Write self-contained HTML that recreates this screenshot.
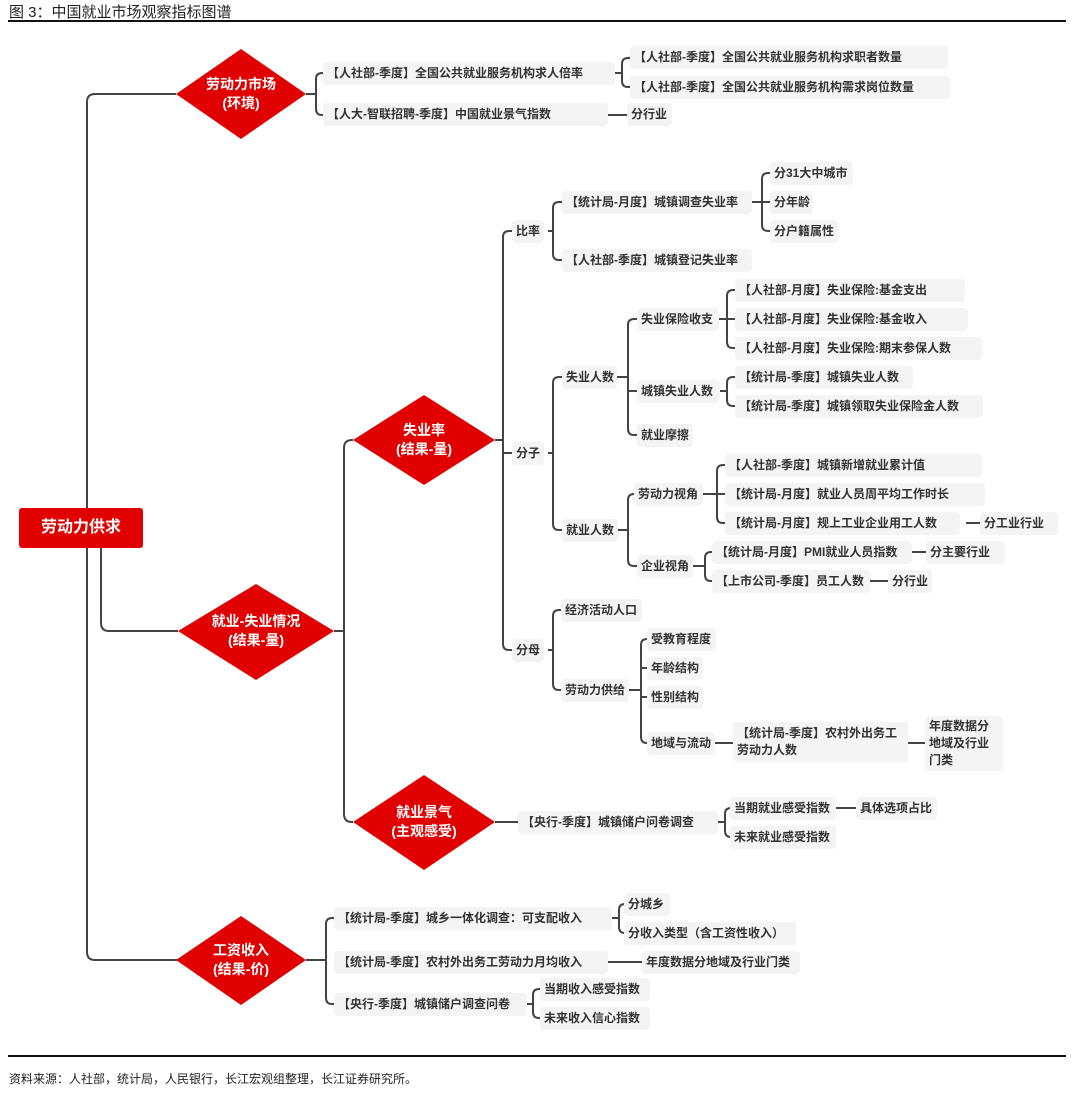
<!DOCTYPE html>
<html><head><meta charset="utf-8"><style>
body{margin:0;width:1080px;height:1094px;background:#fff;position:relative;overflow:hidden;font-family:"Liberation Sans","Noto Sans CJK SC",sans-serif;}
.b{position:absolute;height:23px;line-height:23px;background:#f4f4f4;border-radius:4px;font-size:12px;font-weight:bold;color:#333;padding:0 4px;white-space:nowrap;box-sizing:border-box;}
.d{position:absolute;color:#fff;font-weight:bold;font-size:14px;text-align:center;line-height:19px;}
svg{position:absolute;left:0;top:0;}
</style></head><body>
<div style="position:absolute;left:9px;top:1px;font-size:15px;color:#222;">图 3：中国就业市场观察指标图谱</div>
<div style="position:absolute;left:8px;top:20px;width:1058px;height:2px;background:#111;"></div>
<div style="position:absolute;left:8px;top:1055px;width:1058px;height:2px;background:#111;"></div>
<div style="position:absolute;left:9px;top:1070px;font-size:12px;color:#222;">资料来源：人社部，统计局，人民银行，长江宏观组整理，长江证券研究所。</div>

<svg width="1080" height="1094">
<g fill="none" stroke="#444" stroke-width="2">
<path d="M176,94 H95 Q87,94 87,102 V952 Q87,960 95,960 H178"/>
<path d="M101,548 V623 Q101,631 109,631 H178"/>
<path d="M334,631 H344 M353,440 H352 Q344,440 344,448 V814 Q344,822 352,822 H353"/>
<!-- A --><path d="M306,94 H316 M323,73 H322 Q316,73 316,79 V109 Q316,115 322,115 H323"/>
<!-- B --><path d="M615,73 H622 M630,58 H628 Q622,58 622,64 V81 Q622,87 628,87 H630"/>
<path d="M608,115 H627"/>
<!-- D --><path d="M495,440 H503 M512,231 H509 Q503,231 503,237 V644 Q503,650 509,650 H512 M503,453 H512"/>
<!-- E --><path d="M548,231 H553 M562,202 H559 Q553,202 553,208 V254 Q553,260 559,260 H562"/>
<!-- F --><path d="M752,202 H770 M770,173 H768 Q762,173 762,179 V225 Q762,231 768,231 H770"/>
<!-- G --><path d="M548,453 H553 M562,377 H559 Q553,377 553,383 V524 Q553,530 559,530 H562"/>
<!-- H --><path d="M617,377 H628 M637,319 H634 Q628,319 628,325 V429 Q628,435 634,435 H637 M628,391 H637"/>
<!-- I --><path d="M719,319 H735 M735,290 H733 Q727,290 727,296 V342 Q727,348 733,348 H735"/>
<!-- J --><path d="M720,391 H727 M735,377 H733 Q727,377 727,383 V400 Q727,406 733,406 H735"/>
<!-- K --><path d="M618,530 H628 M634,494 H634 Q628,494 628,500 V560 Q628,566 634,566 H637"/>
<!-- L --><path d="M703,494 H725 M725,465 H723 Q717,465 717,471 V517 Q717,523 723,523 H725"/>
<path d="M966,523 H980"/>
<!-- M --><path d="M693,566 H705 M712,552 H711 Q705,552 705,558 V575 Q705,581 711,581 H712"/>
<path d="M912,552 H926 M870,581 H888"/>
<!-- N --><path d="M548,650 H553 M561,610 H559 Q553,610 553,616 V684 Q553,690 559,690 H561"/>
<!-- O --><path d="M629,690 H641 M647,639 H647 Q641,639 641,645 V737 Q641,743 647,743 H647 M641,668 H647 M641,697 H647"/>
<path d="M715,743 H733 M908,743 H925"/>
<path d="M495,822 H518"/>
<!-- Q --><path d="M718,822 H725 M730,808 H731 Q725,808 725,814 V831 Q725,837 731,837 H730"/>
<path d="M836,808 H856"/>
<!-- R --><path d="M306,960 H326 M334,918 H332 Q326,918 326,924 V998 Q326,1004 332,1004 H334"/>
<!-- S --><path d="M612,918 H619 M624,904 H625 Q619,904 619,910 V927 Q619,933 625,933 H624"/>
<path d="M608,962 H642"/>
<!-- T --><path d="M527,1004 H533 M540,989 H539 Q533,989 533,995 V1012 Q533,1018 539,1018 H540"/>
</g>
<g fill="#e00000">
<polygon points="241,49 306,94 241,139 176,94"/>
<polygon points="256,584 334,631 256,680 178,631"/>
<polygon points="424,395 495,440 424,485 353,440"/>
<polygon points="424,775 495,822 424,870 353,822"/>
<polygon points="241,916 306,960 241,1005 176,960"/>
</g>
<rect x="19" y="508" width="124" height="40" rx="3" fill="#e00000"/>
</svg>

<div style="position:absolute;left:19px;top:508px;width:124px;height:40px;line-height:40px;text-align:center;color:#fff;font-weight:bold;font-size:16px;">劳动力供求</div>
<div class="d" style="left:176px;top:75px;width:130px;">劳动力市场<br>(环境)</div>
<div class="d" style="left:178px;top:612px;width:156px;">就业-失业情况<br>(结果-量)</div>
<div class="d" style="left:353px;top:421px;width:142px;">失业率<br>(结果-量)</div>
<div class="d" style="left:353px;top:803px;width:142px;">就业景气<br>(主观感受)</div>
<div class="d" style="left:176px;top:941px;width:130px;">工资收入<br>(结果-价)</div>

<div class="b" style="left:323px;top:62px;width:292px;">【人社部-季度】全国公共就业服务机构求人倍率</div>
<div class="b" style="left:630px;top:46px;width:318px;">【人社部-季度】全国公共就业服务机构求职者数量</div>
<div class="b" style="left:630px;top:76px;width:320px;">【人社部-季度】全国公共就业服务机构需求岗位数量</div>
<div class="b" style="left:323px;top:103px;width:285px;">【人大-智联招聘-季度】中国就业景气指数</div>
<div class="b" style="left:627px;top:103px;width:45px;">分行业</div>

<div class="b" style="left:512px;top:220px;">比率</div>
<div class="b" style="left:512px;top:442px;">分子</div>
<div class="b" style="left:512px;top:639px;">分母</div>
<div class="b" style="left:562px;top:191px;width:190px;">【统计局-月度】城镇调查失业率</div>
<div class="b" style="left:562px;top:249px;width:190px;">【人社部-季度】城镇登记失业率</div>
<div class="b" style="left:770px;top:162px;width:83px;">分31大中城市</div>
<div class="b" style="left:770px;top:191px;width:43px;">分年龄</div>
<div class="b" style="left:770px;top:220px;width:68px;">分户籍属性</div>
<div class="b" style="left:562px;top:366px;width:55px;">失业人数</div>
<div class="b" style="left:562px;top:519px;width:56px;">就业人数</div>
<div class="b" style="left:637px;top:308px;width:82px;">失业保险收支</div>
<div class="b" style="left:637px;top:380px;width:83px;">城镇失业人数</div>
<div class="b" style="left:637px;top:424px;width:56px;">就业摩擦</div>
<div class="b" style="left:735px;top:279px;width:230px;">【人社部-月度】失业保险:基金支出</div>
<div class="b" style="left:735px;top:308px;width:233px;">【人社部-月度】失业保险:基金收入</div>
<div class="b" style="left:735px;top:337px;width:247px;">【人社部-月度】失业保险:期末参保人数</div>
<div class="b" style="left:735px;top:366px;width:178px;">【统计局-季度】城镇失业人数</div>
<div class="b" style="left:735px;top:395px;width:248px;">【统计局-季度】城镇领取失业保险金人数</div>
<div class="b" style="left:634px;top:483px;width:69px;">劳动力视角</div>
<div class="b" style="left:637px;top:555px;width:56px;">企业视角</div>
<div class="b" style="left:725px;top:454px;width:257px;">【人社部-季度】城镇新增就业累计值</div>
<div class="b" style="left:725px;top:483px;width:260px;">【统计局-月度】就业人员周平均工作时长</div>
<div class="b" style="left:725px;top:512px;width:235px;">【统计局-月度】规上工业企业用工人数</div>
<div class="b" style="left:980px;top:512px;width:78px;">分工业行业</div>
<div class="b" style="left:712px;top:541px;width:200px;">【统计局-月度】PMI就业人员指数</div>
<div class="b" style="left:926px;top:541px;width:79px;">分主要行业</div>
<div class="b" style="left:712px;top:570px;width:158px;">【上市公司-季度】员工人数</div>
<div class="b" style="left:888px;top:570px;width:44px;">分行业</div>
<div class="b" style="left:561px;top:599px;width:81px;">经济活动人口</div>
<div class="b" style="left:561px;top:679px;width:68px;">劳动力供给</div>
<div class="b" style="left:647px;top:628px;width:69px;">受教育程度</div>
<div class="b" style="left:647px;top:657px;width:56px;">年龄结构</div>
<div class="b" style="left:647px;top:686px;width:56px;">性别结构</div>
<div class="b" style="left:647px;top:732px;width:68px;">地域与流动</div>
<div class="b" style="left:733px;top:722px;width:175px;height:40px;line-height:17px;padding-top:3px;white-space:normal;">【统计局-季度】农村外出务工<br>劳动力人数</div>
<div class="b" style="left:925px;top:716px;width:78px;height:55px;line-height:17px;padding-top:2px;white-space:normal;">年度数据分<br>地域及行业<br>门类</div>

<div class="b" style="left:518px;top:811px;width:200px;">【央行-季度】城镇储户问卷调查</div>
<div class="b" style="left:730px;top:797px;width:106px;">当期就业感受指数</div>
<div class="b" style="left:856px;top:797px;width:81px;">具体选项占比</div>
<div class="b" style="left:730px;top:826px;width:106px;">未来就业感受指数</div>

<div class="b" style="left:334px;top:907px;width:278px;">【统计局-季度】城乡一体化调查：可支配收入</div>
<div class="b" style="left:334px;top:951px;width:274px;">【统计局-季度】农村外出务工劳动力月均收入</div>
<div class="b" style="left:334px;top:993px;width:193px;">【央行-季度】城镇储户调查问卷</div>
<div class="b" style="left:624px;top:893px;width:46px;">分城乡</div>
<div class="b" style="left:624px;top:922px;width:172px;">分收入类型（含工资性收入）</div>
<div class="b" style="left:642px;top:951px;width:158px;">年度数据分地域及行业门类</div>
<div class="b" style="left:540px;top:978px;width:110px;">当期收入感受指数</div>
<div class="b" style="left:540px;top:1007px;width:110px;">未来收入信心指数</div>
</body></html>
